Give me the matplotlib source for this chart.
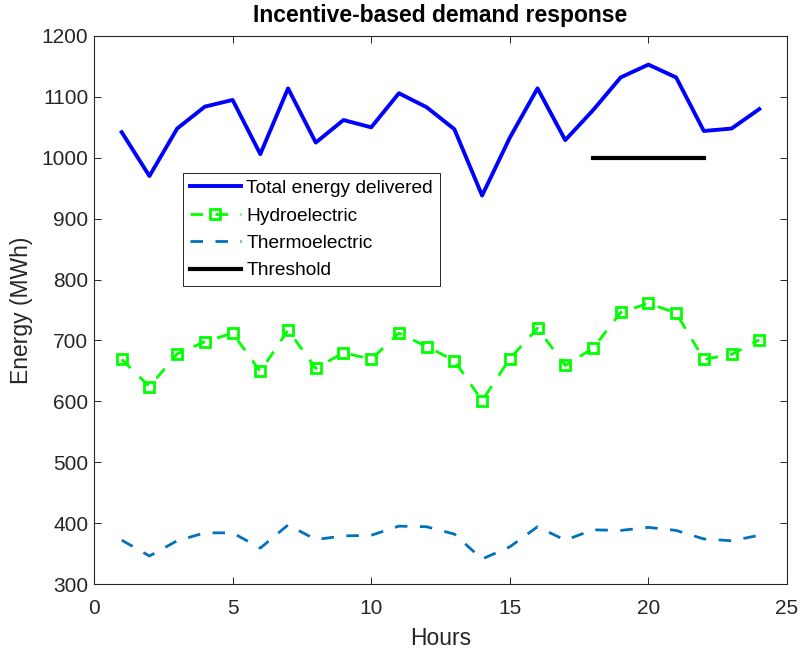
import matplotlib
matplotlib.use("Agg")
import matplotlib.pyplot as plt

plt.rcParams['font.family'] = ['Liberation Sans', 'DejaVu Sans']

hours = list(range(1, 25))
total = [1042, 970, 1048, 1084, 1095, 1006, 1114, 1025, 1062, 1050, 1106, 1083,
         1047, 938, 1033, 1114, 1029, 1078, 1132, 1153, 1132, 1044, 1048, 1080]
hydro = [669, 624, 678, 698, 712, 649, 717, 654, 680, 669, 712, 690,
         667, 601, 670, 720, 659, 687, 746, 761, 745, 669, 677, 701]
thermo = [372, 346, 371, 384, 384, 359, 397, 373, 379, 380, 395, 394,
          382, 341, 361, 394, 372, 389, 388, 393, 388, 374, 371, 380]
thr_hours = [18, 22]
thr_values = [1000, 1000]

xticks = [0, 5, 10, 15, 20, 25]
yticks = [300, 400, 500, 600, 700, 800, 900, 1000, 1100, 1200]

fig = plt.figure(figsize=(8, 6.54), dpi=100)
ax = fig.add_axes([94/800, (654-584)/654, (787-94)/800, (584-36)/654])

ax.plot(hours, total, color='#0000FF', lw=2.8, label='Total energy delivered')
ax.plot(hours, hydro, color='#00FF00', lw=2.0, ls=(0, (4.5, 4.5)), marker='s',
        ms=7.5, mfc='none', mew=2.0, label='Hydroelectric')
ax.plot(hours, thermo, color='#0072BD', lw=2.0, ls=(0, (4.5, 4.5)), label='Thermoelectric')
ax.plot(thr_hours, thr_values, color='black', lw=3.0, label='Threshold')

ax.set_xlim(0, 25)
ax.set_ylim(300, 1200)
ax.set_xticks(xticks)
ax.set_yticks(yticks)
ax.tick_params(direction='in', top=True, right=True, labelsize=15, length=5,
               color='#262626', labelcolor='#262626', width=0.7, pad=4)
ax.tick_params(axis='x', pad=11)
for s in ax.spines.values():
    s.set_color('#262626')
    s.set_linewidth(0.8)

ax.set_xlabel('Hours', fontsize=16.5, color='#262626', labelpad=6)
ax.set_ylabel('Energy (MWh)', fontsize=16.5, color='#262626', labelpad=6)
ax.set_title('Incentive-based demand response', fontsize=16.5, fontweight='bold', pad=10)

leg = ax.legend(loc='upper left', bbox_to_anchor=((183-94)/693, (584-173)/548),
                borderaxespad=0, fontsize=13.8, fancybox=False, framealpha=1,
                edgecolor='#262626', handlelength=2.65, labelspacing=0.52,
                borderpad=0.35, handletextpad=0.3)
leg.get_frame().set_linewidth(0.7)

fig.savefig('out.png', dpi=100)
